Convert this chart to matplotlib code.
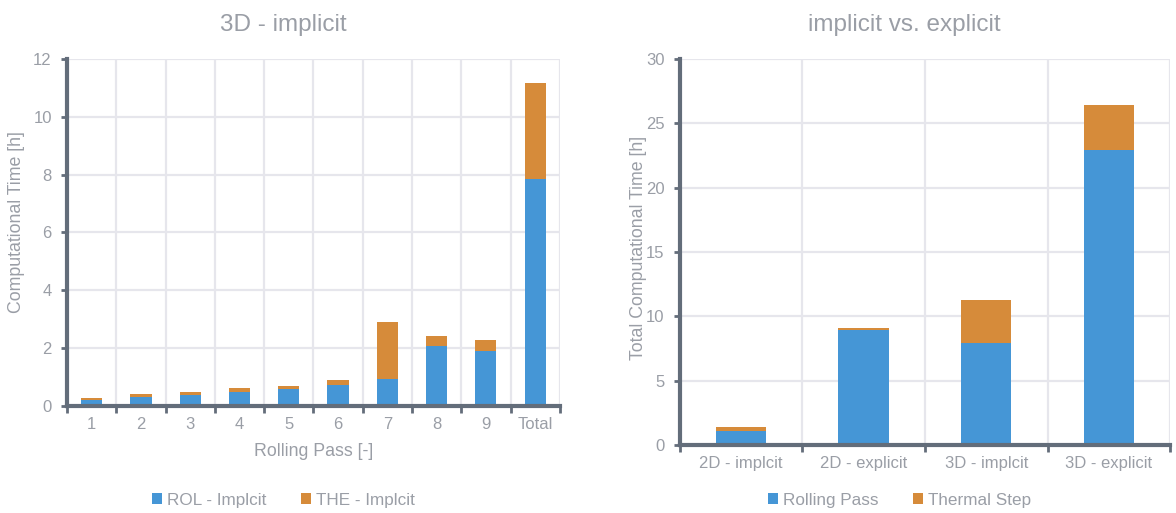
import numpy as np
import matplotlib.pyplot as plt

plt.rcParams['font.family'] = ['Liberation Sans', 'DejaVu Sans']

# computational time per rolling pass, 3D implicit model [h]
passes = ['1', '2', '3', '4', '5', '6', '7', '8', '9', 'Total']
rol_implicit = [0.21, 0.31, 0.38, 0.50, 0.59, 0.71, 0.94, 2.09, 1.91, 7.85]
the_implicit = [0.07, 0.11, 0.11, 0.12, 0.10, 0.19, 1.97, 0.34, 0.38, 3.33]

# total computational time per model [h]
models = ['2D - implcit', '2D - explicit', '3D - implcit', '3D - explicit']
rolling_pass = [1.10, 8.90, 7.96, 22.9]
thermal_step = [0.31, 0.21, 3.27, 3.5]

BLUE = '#4596d6'
ORANGE = '#d68b3a'
SPINE = '#636d7a'
GRID = '#e6e6ec'
TEXT = '#9a9ea6'


def style_axes(ax, n, ymax, ystep):
    ax.set_xlim(-0.5, n - 0.5)
    ax.set_ylim(0, ymax)
    ax.set_yticks(np.arange(0, ymax + 0.01, ystep))
    ax.set_xticks(np.arange(n))
    ax.set_xticks(np.arange(n + 1) - 0.5, minor=True)
    ax.grid(True, axis='y', which='major', color=GRID, lw=1.6)
    ax.grid(True, axis='x', which='minor', color=GRID, lw=1.6)
    ax.set_axisbelow(True)
    for s in ['top', 'right']:
        ax.spines[s].set_visible(False)
    for s in ['left', 'bottom']:
        ax.spines[s].set_color(SPINE)
        ax.spines[s].set_linewidth(3)
    ax.tick_params(axis='x', which='major', length=0, pad=8, labelsize=12, labelcolor=TEXT)
    ax.tick_params(axis='x', which='minor', length=5, width=2, color=SPINE)
    ax.tick_params(axis='y', length=4, width=2, color=SPINE, pad=7, labelsize=12, labelcolor=TEXT)


fig = plt.figure(figsize=(11.76, 5.13), dpi=100)

ax1 = fig.add_axes([0.057, 0.2086, 0.419, 0.6764])
x1 = np.arange(len(passes))
ax1.bar(x1, rol_implicit, 0.43, color=BLUE, label='ROL - Implcit', zorder=2)
ax1.bar(x1, the_implicit, 0.43, bottom=rol_implicit, color=ORANGE, label='THE - Implcit', zorder=2)
style_axes(ax1, len(passes), 12, 2)
ax1.set_xticklabels(passes)
ax1.set_title('3D - implicit', fontsize=17.5, color=TEXT, pad=20, x=0.438)
ax1.set_ylabel('Computational Time [h]', fontsize=12.8, color=TEXT)
ax1.yaxis.set_label_coords(-0.085, 0.53)
ax1.set_xlabel('Rolling Pass [-]', fontsize=12.8, color=TEXT, labelpad=8)
ax1.legend(loc='center', bbox_to_anchor=(0.241, 0.025), bbox_transform=fig.transFigure,
           ncol=2, frameon=False, handlelength=0.6, handleheight=0.6, handletextpad=0.3,
           columnspacing=2.0, fontsize=12.3, labelcolor=TEXT)

ax2 = fig.add_axes([0.578, 0.1326, 0.417, 0.7524])
x2 = np.arange(len(models))
ax2.bar(x2, rolling_pass, 0.41, color=BLUE, label='Rolling Pass', zorder=2)
ax2.bar(x2, thermal_step, 0.41, bottom=rolling_pass, color=ORANGE, label='Thermal Step', zorder=2)
style_axes(ax2, len(models), 30, 5)
ax2.set_xticklabels(models)
ax2.set_title('implicit vs. explicit', fontsize=17.5, color=TEXT, pad=20, x=0.457)
ax2.set_ylabel('Total Computational Time [h]', fontsize=12.8, color=TEXT)
ax2.yaxis.set_label_coords(-0.067, 0.51)
ax2.legend(loc='center', bbox_to_anchor=(0.765, 0.025), bbox_transform=fig.transFigure,
           ncol=2, frameon=False, handlelength=0.6, handleheight=0.6, handletextpad=0.3,
           columnspacing=2.0, fontsize=12.3, labelcolor=TEXT)

fig.savefig('out.png', dpi=100)
